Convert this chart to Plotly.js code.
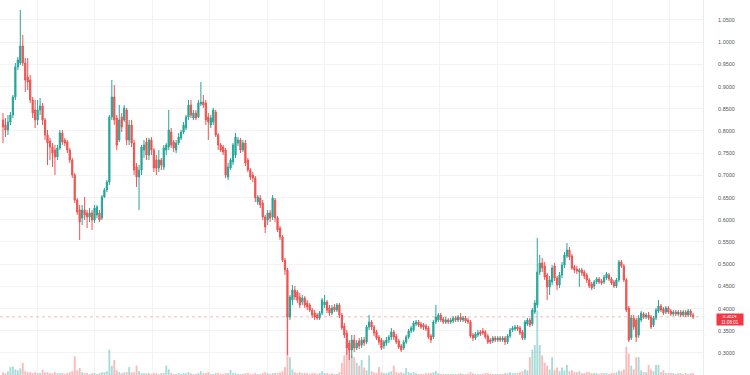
<!DOCTYPE html>
<html>
<head>
<meta charset="utf-8">
<script src="https://cdn.plot.ly/plotly-3.0.1.min.js"></script>
<style>html,body{margin:0;padding:0;background:#fff;}#chart{width:750px;height:375px;}</style>
</head>
<body>
<div id="chart"></div>
<script>
const openP = [
.8247,.8135,.8022,.8202,.8360,.8765,.9441,.9531,.9914,.9531,
.9216,.9148,.8698,.8473,.8247,.8473,.8563,.8247,.7909,.7774,
.7639,.7572,.7414,.7617,.7954,.7797,.7752,.7572,.7346,.7008,
.6445,.6220,.6040,.6220,.6153,.6063,.6153,.5995,.6108,.6153,
.6040,.6513,.6671,.6851,.8315,.8765,.8292,.7797,.8315,.8247,
.8473,.7797,.8135,.7729,.7189,.6963,.7121,.7572,.7752,.7459,
.7797,.7572,.7346,.7166,.7346,.7189,.7572,.7639,.7977,.7752,
.7572,.7729,.7842,.7977,.8067,.8315,.8585,.8292,.8405,.8315,
.8608,.8653,.8630,.8315,.8135,.8202,.8427,.7909,.7684,.7639,
.7572,.6963,.7166,.7301,.7459,.7729,.7797,.7572,.7729,.7346,
.7121,.7008,.6941,.6400,.6490,.6378,.6063,.5995,.6153,.6063,
.6445,.6040,.5815,.5612,.5094,.4869,.3810,.4193,.4418,.4373,
.4261,.4148,.4238,.4126,.4081,.3968,.3900,.3855,.3788,.3900,
.4081,.4148,.4013,.3900,.4036,.3968,.4081,.3855,.3608,.3450,
.3225,.3067,.3292,.3112,.3270,.3180,.3292,.3247,.3585,.3698,
.3585,.3473,.3360,.3292,.3157,.3225,.3292,.3360,.3473,.3383,
.3270,.3157,.3112,.3247,.3360,.3495,.3518,.3653,.3698,.3653,
.3630,.3608,.3563,.3383,.3360,.3698,.3743,.3855,.3765,.3698,
.3743,.3698,.3720,.3788,.3743,.3810,.3743,.3788,.3743,.3698,
.3405,.3338,.3405,.3473,.3495,.3473,.3383,.3292,.3270,.3338,
.3292,.3338,.3292,.3338,.3247,.3383,.3518,.3540,.3585,.3563,
.3473,.3338,.3653,.3743,.3653,.3923,.4081,.4824,.5027,.4959,
.4756,.4486,.4599,.4959,.4689,.4531,.4756,.4981,.5184,.5319,
.5184,.4936,.4891,.4824,.4869,.4824,.4756,.4644,.4554,.4508,
.4599,.4666,.4621,.4599,.4689,.4756,.4666,.4599,.4508,.4644,
.5049,.4959,.4644,.4013,.3338,.3788,.3743,.3405,.3743,.3878,
.3810,.3855,.3810,.3630,.3788,.3945,.4058,.3990,.3923,.4013,
.3945,.3878,.3923,.3878,.3923,.3855,.3923,.3855,.3945,.3855
];
const highP = [
.8405,.8292,.8360,.8427,.8810,.9531,.9666,1.0725,1.0162,.9644,
.9644,.9261,.8765,.8698,.8698,.8743,.8630,.8292,.8022,.7842,
.7729,.7684,.7684,.8022,.8022,.7842,.7797,.7617,.7391,.7053,
.6490,.6333,.6333,.6513,.6220,.6265,.6220,.6333,.6333,.6220,
.6558,.6716,.6896,.8360,.9148,.9036,.8360,.8585,.8405,.8585,
.8518,.8247,.8247,.7797,.7279,.7234,.7684,.7797,.7842,.7842,
.7864,.7617,.7459,.7572,.7391,.7684,.7729,.8473,.8067,.7797,
.7797,.7954,.8022,.8202,.8360,.8698,.8698,.8473,.8473,.8698,
.9103,.8810,.8698,.8405,.8360,.8518,.8473,.7954,.7729,.7684,
.7617,.7279,.7391,.7729,.7954,.7864,.7842,.7797,.7797,.7391,
.7166,.7076,.6986,.6558,.6558,.6445,.6108,.6220,.6220,.6558,
.6490,.6085,.5860,.5657,.5139,.4914,.4306,.4531,.4508,.4418,
.4351,.4306,.4283,.4193,.4126,.4013,.3968,.3900,.3945,.4238,
.4306,.4193,.4081,.4081,.4103,.4126,.4126,.3900,.3675,.3518,
.3292,.3405,.3405,.3292,.3338,.3360,.3360,.3630,.3855,.3743,
.3630,.3518,.3405,.3338,.3292,.3360,.3405,.3563,.3518,.3428,
.3315,.3202,.3292,.3405,.3540,.3608,.3720,.3743,.3743,.3698,
.3675,.3653,.3608,.3428,.3743,.4081,.3900,.3900,.3810,.3810,
.3788,.3788,.3833,.3833,.3855,.3900,.3833,.3833,.3788,.3743,
.3450,.3473,.3518,.3518,.3563,.3518,.3428,.3338,.3383,.3383,
.3383,.3383,.3383,.3383,.3428,.3563,.3608,.3630,.3630,.3608,
.3518,.3743,.3788,.3788,.4013,.4193,.5589,.5207,.5139,.5049,
.4801,.4734,.4981,.5027,.4734,.4824,.5049,.5274,.5477,.5387,
.5229,.4981,.4959,.4914,.4914,.4869,.4801,.4689,.4599,.4644,
.4711,.4711,.4666,.4756,.4824,.4801,.4711,.4644,.4689,.5094,
.5094,.5004,.4689,.4058,.3855,.3855,.3788,.3855,.3945,.3923,
.3900,.3923,.3855,.3833,.4013,.4193,.4103,.4036,.4058,.4058,
.3990,.3968,.3968,.3968,.3968,.3968,.3968,.3990,.3990,.3900
];
const lowP = [
.7729,.7864,.7909,.8135,.8292,.8698,.9373,.9486,.9464,.8878,
.8923,.8630,.8292,.8067,.8135,.8360,.8135,.7797,.7234,.7346,
.7189,.7008,.7346,.7572,.7684,.7662,.7504,.7279,.6941,.6378,
.6108,.5544,.5882,.5995,.5815,.5950,.5770,.5927,.6040,.5950,
.5995,.6490,.6626,.6783,.8247,.8135,.7572,.7752,.7977,.8202,
.7684,.7684,.7639,.7008,.6738,.6220,.7008,.7391,.7346,.7346,
.7459,.7076,.7008,.7076,.7121,.7121,.7459,.7572,.7617,.7527,
.7504,.7684,.7797,.7932,.8022,.8247,.8292,.8247,.8247,.8292,
.8563,.8518,.8135,.7797,.8067,.8135,.7864,.7572,.7527,.7459,
.6941,.6896,.7121,.7234,.7391,.7662,.7504,.7527,.7211,.7076,
.6896,.6851,.6400,.6333,.6265,.5995,.5702,.5882,.5950,.5995,
.5950,.5725,.5544,.5049,.4756,.2955,.3743,.4081,.4193,.4126,
.4013,.4081,.4013,.3968,.3923,.3788,.3743,.3743,.3743,.3855,
.4013,.3900,.3833,.3855,.3923,.3923,.3788,.3518,.3338,.2955,
.2842,.2887,.3022,.3067,.3090,.3112,.3157,.3202,.3518,.3518,
.3383,.3292,.3180,.3067,.3090,.3157,.3225,.3292,.3292,.3202,
.3090,.3022,.3067,.3202,.3315,.3450,.3473,.3608,.3585,.3540,
.3518,.3495,.3315,.3225,.3315,.3653,.3698,.3698,.3653,.3653,
.3653,.3653,.3675,.3698,.3698,.3698,.3698,.3675,.3653,.3338,
.3270,.3292,.3360,.3383,.3405,.3315,.3202,.3202,.3225,.3247,
.3247,.3247,.3247,.3180,.3202,.3338,.3473,.3495,.3495,.3405,
.3292,.3292,.3608,.3585,.3608,.3878,.4013,.4756,.4824,.4644,
.4193,.4306,.4531,.4621,.4418,.4464,.4689,.4914,.5139,.5094,
.4869,.4801,.4779,.4486,.4734,.4666,.4576,.4464,.4418,.4441,
.4554,.4554,.4531,.4554,.4644,.4621,.4531,.4464,.4464,.4599,
.4914,.4599,.3923,.3247,.3292,.3518,.3247,.3338,.3698,.3765,
.3765,.3743,.3540,.3585,.3743,.3900,.3923,.3855,.3878,.3878,
.3833,.3833,.3833,.3833,.3810,.3810,.3810,.3810,.3810,.3765
];
const closeP = [
.8090,.8022,.8202,.8360,.8765,.9441,.9599,.9914,.9531,.9148,
.9103,.8698,.8405,.8247,.8473,.8563,.8247,.7909,.7729,.7639,
.7504,.7414,.7617,.7954,.7752,.7729,.7572,.7346,.7008,.6445,
.6175,.5950,.6220,.6108,.6063,.6153,.5995,.6265,.6288,.5995,
.6513,.6671,.6851,.8315,.8765,.8247,.7684,.8247,.8090,.8518,
.7797,.8135,.7729,.7121,.6963,.7121,.7639,.7684,.7459,.7797,
.7572,.7166,.7166,.7346,.7234,.7617,.7684,.8022,.7684,.7617,
.7729,.7864,.7977,.8135,.8315,.8585,.8360,.8405,.8292,.8630,
.8653,.8585,.8247,.8202,.8292,.8473,.7909,.7684,.7572,.7527,
.7008,.7189,.7346,.7684,.7864,.7797,.7572,.7729,.7279,.7121,
.6963,.6941,.6490,.6513,.6333,.6063,.5837,.6153,.6040,.6490,
.6040,.5770,.5612,.5094,.4869,.3810,.4261,.4418,.4261,.4193,
.4081,.4238,.4081,.4036,.3968,.3855,.3810,.3788,.3900,.4193,
.4148,.3968,.3900,.4013,.3968,.4081,.3855,.3563,.3405,.3112,
.3067,.3292,.3112,.3225,.3157,.3292,.3225,.3585,.3698,.3585,
.3450,.3338,.3247,.3112,.3247,.3292,.3360,.3473,.3360,.3247,
.3135,.3067,.3247,.3360,.3495,.3563,.3675,.3698,.3630,.3585,
.3585,.3540,.3360,.3292,.3698,.3810,.3855,.3743,.3698,.3743,
.3698,.3743,.3788,.3743,.3810,.3743,.3788,.3720,.3698,.3383,
.3338,.3428,.3450,.3428,.3450,.3360,.3247,.3247,.3338,.3292,
.3338,.3292,.3338,.3247,.3383,.3518,.3563,.3585,.3540,.3450,
.3338,.3698,.3743,.3630,.3968,.4126,.4824,.5027,.4914,.4711,
.4486,.4644,.4914,.4689,.4531,.4756,.4981,.5207,.5319,.5162,
.4914,.4869,.4846,.4869,.4801,.4734,.4644,.4508,.4464,.4599,
.4666,.4599,.4576,.4711,.4779,.4666,.4576,.4508,.4644,.5049,
.4959,.4644,.3968,.3292,.3788,.3585,.3360,.3788,.3900,.3810,
.3855,.3788,.3585,.3788,.3968,.4058,.3968,.3900,.4013,.3923,
.3878,.3923,.3878,.3923,.3855,.3923,.3855,.3945,.3855,.3814
];
const volume = [
0.3,0.2,0.4,0.85,0.9,0.6,0.5,0.7,1.3,0.4,
0.3,0.3,0.2,0.3,0.2,0.2,0.55,0.3,0.3,0.2,
0.2,0.3,0.2,0.2,0.2,0.1,0.2,0.3,0.4,2.0,
0.5,0.75,0.3,0.2,0.2,0.1,0.2,0.2,0.1,0.2,
0.3,0.3,0.4,2.7,1.0,1.6,0.5,0.3,0.2,0.3,
0.3,0.85,0.3,0.3,1.0,0.4,0.2,0.2,0.2,0.2,
0.1,0.2,0.2,0.1,0.2,0.2,1.0,0.6,0.2,0.1,
0.1,0.2,0.1,0.2,0.2,0.3,0.2,0.1,0.1,0.2,
0.4,0.2,0.2,0.3,0.1,0.1,0.2,0.2,0.1,0.1,
0.2,0.2,0.55,0.2,0.2,0.1,0.1,0.1,0.2,0.2,
0.1,0.1,0.2,0.1,0.1,0.2,0.3,0.2,0.1,0.2,
0.2,0.2,0.3,0.4,0.85,6.6,1.9,0.6,0.3,0.2,
0.3,0.2,0.2,0.2,0.1,0.2,0.2,0.1,0.2,0.4,
0.2,0.2,0.1,0.2,0.1,0.1,0.3,1.3,2.1,2.7,
3.2,2.1,1.9,1.3,1.0,1.6,0.8,0.5,2.1,0.4,
0.3,0.2,0.85,0.3,0.2,0.2,0.3,0.4,1.0,0.3,
0.2,0.3,0.2,0.75,0.3,0.2,0.3,0.2,0.1,0.1,
0.1,0.2,0.2,0.2,0.3,0.4,0.2,0.1,0.1,0.1,
0.1,0.1,0.1,0.1,0.1,0.2,0.1,0.1,0.1,0.3,
0.2,0.1,0.1,0.1,0.1,0.2,0.2,0.1,0.1,0.1,
0.1,0.1,0.1,0.2,0.2,0.3,0.2,0.2,0.2,0.3,
0.4,0.6,0.5,1.9,2.7,3.2,6.9,3.2,2.1,1.3,
1.0,0.6,1.9,0.5,0.8,0.4,0.8,0.5,1.07,0.4,
0.5,0.3,0.3,0.4,0.2,0.2,0.3,0.3,0.2,0.2,
0.2,0.1,0.2,0.2,0.2,0.1,0.2,0.2,0.3,0.5,
0.4,0.6,3.0,2.3,1.0,0.6,1.9,1.9,0.5,0.3,
0.3,1.07,0.6,0.4,1.07,1.07,0.3,0.5,0.2,0.2,
0.2,0.2,0.1,0.2,0.2,0.1,0.2,0.1,0.2,0.2
];
const priceTicks = [0.30,0.35,0.40,0.45,0.50,0.55,0.60,0.65,0.70,0.75,0.80,0.85,0.90,0.95,1.00,1.05];
const lastPrice = 0.3814;
const lastLabel = "0.3814";
const countdown = "11:08:01";

const idx = closeP.map((_, i) => i);
const UP = '#26a69a', DOWN = '#ef5350';
const volColors = closeP.map((c, i) => c >= openP[i] ? 'rgba(38,166,154,0.4)' : 'rgba(239,83,80,0.4)');

const traces = [
  {
    type: 'bar', x: idx, y: volume, yaxis: 'y', xaxis: 'x',
    marker: {color: volColors, line: {width: 0}}, width: 0.75,
    hoverinfo: 'skip'
  },
  {
    type: 'candlestick', x: idx, open: openP, high: highP, low: lowP, close: closeP,
    xaxis: 'x', yaxis: 'y2',
    increasing: {line: {color: UP, width: 1}, fillcolor: UP},
    decreasing: {line: {color: DOWN, width: 1}, fillcolor: DOWN},
    whiskerwidth: 0
  }
];

const layout = {
  width: 750, height: 375,
  margin: {l: 0, r: 47, t: 0, b: 0},
  paper_bgcolor: '#ffffff', plot_bgcolor: '#ffffff',
  showlegend: false,
  xaxis: {
    range: [-1.21, 283.0], showgrid: true, gridcolor: '#f3f3f6', gridwidth: 1,
    tick0: 13.75, dtick: 23.25, showticklabels: false, ticks: '', zeroline: false,
    rangeslider: {visible: false}, fixedrange: true, showline: false
  },
  yaxis: {
    range: [0, 40], visible: false, showgrid: false, zeroline: false, fixedrange: true
  },
  yaxis2: {
    overlaying: 'y', side: 'right', anchor: 'x',
    range: [0.2504, 1.095], tickvals: priceTicks,
    ticktext: priceTicks.map(v => v.toFixed(4)),
    showgrid: true, gridcolor: '#f3f3f6', gridwidth: 1, zeroline: false,
    ticks: 'outside', ticklen: 13, tickcolor: 'rgba(0,0,0,0)',
    tickfont: {family: 'Liberation Sans, Arial, sans-serif', size: 5.5, color: '#555555'},
    showline: true, linecolor: '#ececef', linewidth: 1, fixedrange: true
  },
  shapes: [
    {type: 'line', xref: 'paper', x0: 0, x1: 1, yref: 'y2', y0: lastPrice, y1: lastPrice,
     line: {color: 'rgba(239,83,80,0.4)', width: 1, dash: 'dot'}}
  ],
  annotations: [
    {xref: 'paper', x: 716/703, xanchor: 'left', yref: 'y2', y: lastPrice, yanchor: 'middle', yshift: -3,
     text: lastLabel + '<br>' + countdown, showarrow: false, align: 'center',
     font: {family: 'Liberation Sans, Arial, sans-serif', size: 4.5, color: '#ffffff'},
     bgcolor: '#f23645', borderpad: 1, width: 24, height: 9}
  ]
};

Plotly.newPlot('chart', traces, layout, {staticPlot: true, displayModeBar: false});
</script>
</body>
</html>
